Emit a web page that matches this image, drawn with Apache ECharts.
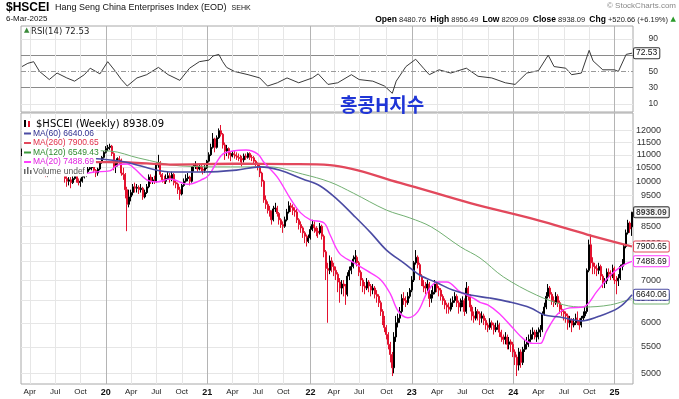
<!DOCTYPE html>
<html>
<head>
<meta charset="utf-8">
<script src="https://cdn.jsdelivr.net/npm/echarts@6/dist/echarts.min.js"></script>
<style>
  html, body { margin: 0; padding: 0; background: #fff; }
  #chart { width: 679px; height: 399px; }
</style>
</head>
<body>
<div id="chart"></div>
<script>
// weekly bars, first bar = week ending Fri 8-Mar-2019
const firstFriday = [2019, 2, 8];
const firstOpen = 11000;

const closes = [
  11100, 11400, 11450, 11650, 11750, 11550, 11700, 11300, 11350, 10800,
  10450, 10350, 10250, 10350, 10450, 10850, 10750, 10850, 10800, 10700,
  10800, 10350, 10100, 10000, 10050, 9950, 10100, 10200, 10050, 9950,
  10000, 10150, 10200, 10350, 10450, 10500, 10550, 10400, 10300, 10450,
  10700, 10900, 11100, 11250, 11300, 11350, 11050, 10550, 10650, 10850,
  10800, 10300, 10250, 9700, 9200, 9450, 9600, 9800, 9750, 9780,
  9700, 9750, 9450, 9600, 9800, 10150, 10000, 10050, 10000, 10600,
  10700, 10250, 10050, 10000, 10100, 10200, 10100, 10250, 9950, 9900,
  9700, 9550, 9850, 10000, 10100, 10150, 10000, 10450, 10550, 10600,
  10450, 10550, 10450, 10400, 10500, 10750, 11000, 11300, 11650, 11300,
  11700, 12000, 11850, 11400, 11150, 11250, 11000, 10950, 11050, 11000,
  10950, 10900, 10850, 10800, 10950, 10900, 11050, 10900, 10880, 10750,
  10650, 10550, 10300, 10000, 9350, 9200, 9000, 8950, 8700, 9050,
  9080, 8900, 8700, 8550, 8500, 8700, 8950, 9150, 9100, 9000,
  8950, 8700, 8550, 8450, 8300, 8200, 8050, 8150, 8400, 8550,
  8450, 8350, 8300, 8500, 8200, 7750, 7300, 7250, 7500, 7350,
  7250, 7150, 6950, 6800, 6900, 6850, 6650, 7100, 7250, 7350,
  7550, 7600, 7450, 7200, 7000, 6850, 6800, 6950, 6850, 6750,
  6800, 6650, 6600, 6450, 6250, 6050, 5900, 5750, 5550, 5350,
  5100, 5700, 6000, 6100, 6250, 6550, 6500, 6450, 6600, 6750,
  7000, 7450, 7600, 7400, 7100, 6950, 6850, 6800, 6900, 6550,
  6650, 6700, 6900, 6800, 6750, 6600, 6500, 6400, 6350, 6300,
  6450, 6500, 6600, 6450, 6350, 6450, 6500, 6250, 6800, 6600,
  6350, 6150, 6100, 6250, 6200, 6100, 6150, 6050, 5950, 5900,
  6000, 5950, 5850, 5900, 5950, 5800, 5700, 5650, 5700, 5550,
  5600, 5550, 5400, 5300, 5150, 5400, 5200, 5450, 5550, 5600,
  5650, 5750, 5800, 5700, 5750, 5800, 5850, 6200, 6350, 6600,
  6800, 6650, 6500, 6450, 6600, 6450, 6300, 6250, 6200, 6150,
  6000, 6050, 5950, 6000, 6100, 6050, 5950, 6100, 6150, 6250,
  7250, 7950, 7450, 7350, 7300, 7250, 7350, 7100, 6950, 6980,
  7200, 7150, 7100, 7300, 7000, 6980, 7050, 7350, 7400, 7900,
  8300, 8600, 8417.43, 8938.09
];

const highs = [
  11250, 11450, 11550, 11700, 11850, 11800, 11880, 11750, 11500, 11400,
  10900, 10600, 10450, 10450, 10550, 10950, 10950, 10950, 10900, 10850,
  10900, 10850, 10400, 10200, 10150, 10150, 10200, 10300, 10250, 10100,
  10100, 10250, 10350, 10450, 10550, 10700, 10650, 10600, 10450, 10500,
  10750, 10950, 11150, 11350, 11400, 11450, 11400, 11100, 10750, 10900,
  10950, 10850, 10500, 10300, 9800, 9700, 9700, 9900, 9950, 9900,
  9850, 9900, 9800, 9700, 9900, 10250, 10250, 10150, 10200, 10700,
  11000, 10750, 10300, 10200, 10250, 10350, 10300, 10350, 10300, 10050,
  9950, 9800, 9900, 10100, 10250, 10300, 10200, 10550, 10650, 10750,
  10650, 10650, 10600, 10550, 10600, 10800, 11100, 11450, 11900, 11700,
  11800, 12100, 12250, 11900, 11500, 11400, 11300, 11100, 11150, 11150,
  11100, 11050, 11000, 10950, 11050, 11050, 11100, 11100, 11000, 10950,
  10800, 10700, 10600, 10350, 10050, 9500, 9300, 9150, 9000, 9150,
  9250, 9150, 8950, 8750, 8650, 8800, 9050, 9300, 9250, 9200,
  9100, 9050, 8750, 8650, 8500, 8350, 8250, 8250, 8500, 8700,
  8650, 8500, 8450, 8600, 8550, 8250, 7800, 7450, 7650, 7600,
  7450, 7350, 7200, 7050, 7000, 7000, 6900, 7200, 7350, 7500,
  7650, 7800, 7650, 7500, 7250, 7050, 6950, 7050, 7000, 6900,
  6900, 6850, 6750, 6650, 6500, 6300, 6150, 5950, 5800, 5600,
  5400, 5800, 6150, 6200, 6350, 6650, 6700, 6600, 6700, 6800,
  7100, 7500, 7800, 7650, 7450, 7150, 7000, 6950, 7000, 6950,
  6750, 6850, 7000, 6950, 6850, 6800, 6650, 6550, 6450, 6450,
  6550, 6600, 6700, 6650, 6500, 6550, 6600, 6550, 6950, 6850,
  6650, 6400, 6250, 6350, 6300, 6250, 6250, 6200, 6100, 6000,
  6100, 6050, 6000, 6000, 6050, 6000, 5850, 5750, 5800, 5750,
  5700, 5650, 5600, 5450, 5350, 5480, 5450, 5500, 5650, 5700,
  5750, 5850, 5900, 5850, 5850, 5900, 5950, 6250, 6450, 6700,
  6900, 6850, 6700, 6600, 6700, 6650, 6500, 6400, 6300, 6250,
  6200, 6150, 6100, 6100, 6200, 6250, 6100, 6150, 6250, 6350,
  7300, 8100, 8250, 7600, 7450, 7400, 7450, 7400, 7150, 7050,
  7300, 7300, 7250, 7400, 7350, 7100, 7150, 7400, 7550, 7950,
  8400, 8700, 8650, 8956.49
];

const lows = [
  10950, 11050, 11300, 11400, 11600, 11500, 11500, 11250, 11100, 10700,
  10400, 10250, 10150, 10150, 10250, 10400, 10650, 10700, 10650, 10600,
  10600, 10300, 9950, 9800, 9850, 9750, 9900, 10050, 9950, 9850,
  9800, 9950, 10100, 10150, 10300, 10400, 10400, 10300, 10150, 10200,
  10400, 10650, 10850, 11050, 11150, 11200, 10950, 10400, 10300, 10550,
  10650, 10200, 10050, 9400, 8350, 9100, 9300, 9500, 9600, 9600,
  9550, 9600, 9350, 9400, 9550, 9750, 9900, 9900, 9900, 9950,
  10500, 10150, 9950, 9900, 9900, 10050, 9950, 10000, 9850, 9750,
  9550, 9350, 9500, 9800, 9950, 10000, 9850, 9950, 10350, 10450,
  10350, 10400, 10350, 10250, 10300, 10450, 10700, 10950, 11250, 11100,
  11250, 11650, 11750, 11250, 10800, 10950, 10850, 10750, 10900, 10850,
  10800, 10750, 10700, 10550, 10700, 10800, 10850, 10800, 10750, 10650,
  10550, 10400, 10150, 9800, 9250, 9050, 8900, 8800, 8550, 8650,
  8950, 8800, 8550, 8450, 8300, 8450, 8650, 8900, 8950, 8850,
  8800, 8600, 8400, 8300, 8150, 8000, 7900, 8000, 8100, 8350,
  8300, 8200, 8150, 8250, 8100, 7600, 7000, 6000, 7150, 7200,
  7100, 7000, 6700, 6450, 6650, 6600, 6400, 6600, 7000, 7150,
  7300, 7450, 7350, 7100, 6850, 6700, 6650, 6750, 6700, 6600,
  6650, 6550, 6450, 6350, 6150, 5950, 5800, 5650, 5450, 5200,
  4950, 5000, 5600, 5900, 6000, 6200, 6400, 6350, 6400, 6550,
  6700, 6950, 7400, 7300, 7000, 6850, 6700, 6650, 6700, 6350,
  6450, 6550, 6650, 6700, 6600, 6500, 6400, 6300, 6200, 6200,
  6250, 6350, 6450, 6350, 6200, 6250, 6350, 6150, 6200, 6500,
  6250, 6050, 6000, 6050, 6050, 5950, 6000, 5950, 5850, 5800,
  5850, 5850, 5750, 5800, 5850, 5700, 5600, 5550, 5550, 5450,
  5450, 5400, 5300, 5150, 4950, 5050, 5100, 5150, 5400, 5450,
  5500, 5600, 5650, 5650, 5600, 5650, 5700, 5800, 6150, 6300,
  6550, 6550, 6400, 6350, 6400, 6350, 6200, 6150, 6050, 6000,
  5850, 5900, 5800, 5900, 5950, 5950, 5850, 5900, 6050, 6100,
  6200, 7200, 7300, 7150, 7150, 7100, 7150, 7000, 6800, 6800,
  6900, 7050, 7000, 7050, 6900, 6650, 6850, 7000, 7250, 7350,
  7850, 8250, 8300, 8209.09
];

// header quote for the last week
const lastBar = { open: 8480.76, high: 8956.49, low: 8209.09, close: 8938.09, chg: 520.66, chgPct: 6.19 };

// moving averages as [week index, value]
const ma20Pts = [
  [0, 11100], [15, 10700], [30, 10250], [37, 10340], [45, 10380], [49, 10600], [54, 10640],
  [58, 10450], [64, 10050], [69, 9970], [76, 10080], [85, 9890], [93, 10080], [96, 10230],
  [100, 10720], [103, 11030], [108, 11150], [115, 11190], [121, 11030], [124, 10720],
  [131, 10150], [138, 9360], [143, 8920], [148, 8700], [155, 8600], [158, 8250], [163, 7700],
  [170, 7460], [177, 7240], [184, 7010], [189, 6660], [193, 6260], [198, 6110], [203, 6240],
  [208, 6700], [213, 6950], [218, 6950], [225, 6700], [230, 6600], [235, 6460], [239, 6400],
  [245, 6200], [252, 5880], [257, 5670], [262, 5570], [266, 5570], [269, 5810], [275, 6200],
  [281, 6330], [288, 6350], [295, 6720], [302, 7130], [309, 7400], [313, 7488.69]
];
const ma60Pts = [
  [0, 11000], [50, 10760], [76, 10340], [93, 10340], [110, 10410], [122, 10530], [132, 10410],
  [144, 10080], [153, 9830], [162, 9350], [170, 8850], [179, 8300], [187, 7800], [196, 7440],
  [204, 7130], [213, 6930], [221, 6750], [230, 6630], [240, 6560], [250, 6470], [261, 6330],
  [268, 6170], [276, 6125], [287, 6040], [295, 6125], [306, 6330], [313, 6640.06]
];
const ma120Pts = [
  [0, 11200], [45, 11150], [60, 10870], [81, 10570], [107, 10530], [127, 10530], [144, 10260],
  [158, 9970], [170, 9580], [187, 9010], [199, 8760], [210, 8480], [225, 7890], [235, 7580],
  [247, 7080], [264, 6630], [278, 6400], [288, 6350], [302, 6400], [313, 6549.43]
];
const ma260Pts = [
  [0, 10800], [35, 10720], [55, 10700], [76, 10620], [110, 10650], [137, 10640], [158, 10600],
  [194, 9940], [230, 9240], [264, 8700], [290, 8250], [313, 7900.65]
];
const rsiPts = [
  [0, 56], [3, 60], [6, 62], [9, 50], [14, 40], [18, 48], [23, 42], [27, 38], [32, 46], [35, 54],
  [40, 47], [44, 62], [48, 50], [51, 40], [54, 32], [59, 42], [64, 46], [70, 55], [75, 46],
  [81, 39], [86, 54], [91, 62], [96, 64], [98, 69], [101, 71], [103, 62], [105, 55], [109, 50],
  [116, 46], [122, 42], [126, 32], [131, 36], [136, 42], [142, 36], [149, 42], [152, 47],
  [157, 34], [162, 36], [169, 46], [173, 40], [180, 38], [186, 32], [190, 23], [192, 38],
  [197, 56], [202, 65], [206, 54], [209, 46], [214, 52], [220, 48], [228, 54], [234, 44],
  [241, 42], [248, 36], [253, 34], [259, 48], [265, 51], [270, 70], [273, 56], [279, 54],
  [282, 46], [287, 48], [291, 76], [293, 63], [298, 52], [304, 52], [306, 50], [310, 71],
  [313, 72.53]
];

const priceTicks = [5000, 5500, 6000, 6500, 7000, 7500, 8000, 8500, 9000, 9500, 10000, 10500, 11000, 11500, 12000];
const rsiTicks = [10, 30, 50, 70, 90];
const MONTHS = ['Jan', 'Feb', 'Mar', 'Apr', 'May', 'Jun', 'Jul', 'Aug', 'Sep', 'Oct', 'Nov', 'Dec'];

const FONT = 'Liberation Sans, Arial, sans-serif';
const UP = '#000000';
const DOWN = '#e3122f';
const C_MA60 = '#4b4ba3';
const C_MA260 = '#e2485c';
const C_MA120 = '#72b072';
const C_MA20 = '#ff3cff';

// category axis: friday of every week
const dates = closes.map((_, i) => new Date(firstFriday[0], firstFriday[1], firstFriday[2] + 7 * i));
const cats = dates.map(d => d.getFullYear() + '-' + (d.getMonth() + 1) + '-' + d.getDate());
const quarterIdx = [];
dates.forEach((d, i) => {
  if (i > 0 && d.getMonth() !== dates[i - 1].getMonth() && d.getMonth() % 3 === 0) quarterIdx.push(i);
});
const quarterSet = new Set(quarterIdx);
const vLineColors = quarterIdx.map(i => (dates[i].getMonth() === 0 ? '#b4b4b4' : '#e6e6e6'));

// candle rows [open, close, low, high]; a week opens at the prior close
const candles = closes.map((c, i) => {
  let o = i === 0 ? firstOpen : closes[i - 1];
  if (i === closes.length - 1) o = lastBar.open;
  const h = Math.max(highs[i], o, c);
  const l = Math.min(lows[i], o, c);
  return [o, c, l, h];
});

function xAxisCfg(gridIndex, showLabels) {
  return {
    type: 'category',
    gridIndex: gridIndex,
    data: cats,
    boundaryGap: true,
    axisLine: { show: false },
    axisTick: { show: false },
    axisLabel: showLabels ? {
      interval: (i) => quarterSet.has(i),
      margin: 4,
      fontSize: 8,
      color: '#222',
      fontFamily: FONT,
      hideOverlap: false,
      formatter: (v, i) => {
        const d = dates[i];
        return d.getMonth() === 0 ? '{y|' + String(d.getFullYear()).slice(2) + '}' : MONTHS[d.getMonth()];
      },
      rich: { y: { fontWeight: 'bold', fontSize: 9, color: '#111', fontFamily: FONT } }
    } : { show: false },
    splitLine: {
      show: true,
      alignWithLabel: true,
      interval: (i) => quarterSet.has(i),
      lineStyle: { color: vLineColors, width: 1 }
    }
  };
}

function endBox(text, border, bold) {
  return {
    show: true,
    formatter: text,
    distance: 2,
    fontSize: 8.5,
    fontFamily: FONT,
    fontWeight: bold ? 'bold' : 'normal',
    color: '#111',
    backgroundColor: '#fff',
    borderColor: border,
    borderWidth: 1,
    borderRadius: 1,
    padding: [1, 2, 0, 2]
  };
}

function maSeries(name, pts, color, width, label) {
  return {
    name: name,
    type: 'line',
    xAxisIndex: 1,
    yAxisIndex: 1,
    data: pts,
    showSymbol: false,
    smooth: 0.35,
    silent: true,
    lineStyle: { color: color, width: width },
    endLabel: endBox(label, color, false),
    z: 3
  };
}

const legendRows = [
  { text: '$HSCEI (Weekly) ' + lastBar.close.toFixed(2), color: '#000', y: 124, x: 36, font: '10px DejaVu Sans, sans-serif' },
  { text: 'MA(60) 6640.06', color: '#2f2f8f', y: 133.5, x: 33, icon: C_MA60 },
  { text: 'MA(260) 7900.65', color: '#e0304a', y: 143, x: 33, icon: C_MA260 },
  { text: 'MA(120) 6549.43', color: '#2f8a2f', y: 152.5, x: 33, icon: '#3a9a3a' },
  { text: 'MA(20) 7488.69', color: '#e020e0', y: 162, x: 33, icon: C_MA20 },
  { text: 'Volume undef', color: '#555', y: 171.5, x: 33 }
];

const graphics = [
  { type: 'text', left: 6, top: 2, style: { text: '$HSCEI', font: 'bold 12px ' + FONT, fill: '#000' } },
  {
    type: 'text', left: 55, top: 3.5,
    style: {
      text: 'Hang Seng China Enterprises Index (EOD)  {s|SEHK}', font: '9px ' + FONT, fill: '#111',
      rich: { s: { fontSize: 7, fontFamily: FONT, fill: '#111' } }
    }
  },
  { type: 'text', left: 6, top: 15, style: { text: '6-Mar-2025', font: '8px ' + FONT, fill: '#111' } },
  { type: 'text', right: 3, top: 2, style: { text: '\u00a9 StockCharts.com', font: '8px ' + FONT, fill: '#888' } },
  {
    type: 'text', right: 11, top: 15,
    style: {
      text: '{b|Open} ' + lastBar.open.toFixed(2) + '  {b|High} ' + lastBar.high.toFixed(2) +
        '  {b|Low} ' + lastBar.low.toFixed(2) + '  {b|Close} ' + lastBar.close.toFixed(2) +
        '  {b|Chg} +' + lastBar.chg.toFixed(2) + ' (+' + lastBar.chgPct.toFixed(2) + '%)',
      font: '7.5px ' + FONT,
      fill: '#222',
      rich: { b: { fontWeight: 'bold', fontSize: 8.5, fontFamily: FONT, fill: '#000' } }
    }
  },
  { type: 'text', right: 3, top: 16, style: { text: '\u25b2', font: '7px DejaVu Sans, sans-serif', fill: '#2a9a2a' } },
  { type: 'text', left: 31, top: 27, style: { text: 'RSI(14) 72.53', font: '8.5px DejaVu Sans, sans-serif', fill: '#222' }, z: 50 },
  { type: 'text', left: 24, top: 27, style: { text: '\u25b2', font: '7px DejaVu Sans, sans-serif', fill: '#3a8a3a' }, z: 50 },
  {
    type: 'text', left: 340, top: 95, z: 60,
    style: { text: '홍콩H지수', fontFamily: 'Noto Sans CJK KR', fontWeight: 'bold', fontSize: 19, fill: '#1f35d6' }
  },
  { type: 'rect', left: 22, top: 118, shape: { width: 11, height: 58 }, style: { fill: '#fff' }, z: 40 },
  { type: 'rect', left: 24, top: 120, shape: { width: 2, height: 7 }, style: { fill: '#000' }, z: 42 },
  { type: 'rect', left: 28, top: 121, shape: { width: 2, height: 6 }, style: { fill: DOWN }, z: 42 },
  { type: 'rect', left: 24, top: 169, shape: { width: 1.5, height: 5 }, style: { fill: '#666' }, z: 42 },
  { type: 'rect', left: 27, top: 167, shape: { width: 1.5, height: 7 }, style: { fill: '#666' }, z: 42 },
  { type: 'rect', left: 30, top: 170, shape: { width: 1.5, height: 4 }, style: { fill: '#666' }, z: 42 }
];
legendRows.forEach(r => {
  graphics.push({
    type: 'text', left: r.x, top: r.y - 5, z: 41,
    style: {
      text: r.text, font: r.font || ('8.5px ' + FONT), fill: r.color,
      backgroundColor: '#fff', padding: [0, 2, 0, 0], lineHeight: 10
    }
  });
  if (r.icon) {
    graphics.push({
      type: 'line', z: 42,
      shape: { x1: 24, y1: r.y, x2: 31, y2: r.y },
      style: { stroke: r.icon, lineWidth: 2 }
    });
  }
});

const chart = echarts.init(document.getElementById('chart'), null, { renderer: 'canvas' });

chart.setOption({
  animation: false,
  backgroundColor: '#fff',
  grid: [
    { left: 21, top: 26, width: 612, height: 86, show: true, borderColor: '#a8a8a8', borderWidth: 1, backgroundColor: 'transparent', outerBoundsMode: 'none' },
    { left: 21, top: 113, width: 612, height: 271, show: true, borderColor: '#a8a8a8', borderWidth: 1, backgroundColor: 'transparent', outerBoundsMode: 'none' }
  ],
  xAxis: [xAxisCfg(0, false), xAxisCfg(1, true)],
  yAxis: [
    {
      type: 'value', gridIndex: 0, position: 'right', min: 0, max: 106,
      axisLine: { show: false },
      axisTick: { show: false, customValues: rsiTicks },
      axisLabel: {
        customValues: rsiTicks, align: 'right', margin: 25, fontSize: 8.5, color: '#333',
        fontFamily: FONT, hideOverlap: false
      },
      splitLine: {
        show: true,
        lineStyle: { color: ['#e6e6e6', '#8a8a8a', 'rgba(0,0,0,0)', '#8a8a8a', '#e6e6e6'], width: 1.2 }
      }
    },
    {
      type: 'log', logBase: 10, gridIndex: 1, position: 'right', min: 4810, max: 12792,
      axisLine: { show: false },
      axisTick: { show: false, customValues: priceTicks },
      axisLabel: {
        customValues: priceTicks, align: 'right', margin: 28, fontSize: 9, color: '#333',
        fontFamily: FONT, hideOverlap: false, formatter: (v) => String(Math.round(v))
      },
      splitLine: { show: true, lineStyle: { color: '#e6e6e6', width: 1 } }
    }
  ],
  series: [
    {
      name: 'RSI',
      type: 'line',
      xAxisIndex: 0,
      yAxisIndex: 0,
      data: rsiPts,
      showSymbol: false,
      silent: true,
      lineStyle: { color: '#3a3a3a', width: 1 },
      endLabel: endBox('72.53', '#333', false),
      markLine: {
        silent: true,
        symbol: 'none',
        label: { show: false },
        lineStyle: { color: '#9a9a9a', type: [5, 2, 1, 2], width: 1 },
        data: [{ yAxis: 50 }]
      }
    },
    maSeries('MA(120)', ma120Pts, C_MA120, 1, '6549.43'),
    maSeries('MA(260)', ma260Pts, C_MA260, 2.3, '7900.65'),
    {
      name: '$HSCEI',
      type: 'candlestick',
      xAxisIndex: 1,
      yAxisIndex: 1,
      data: candles,
      barWidth: 1.5,
      silent: true,
      itemStyle: {
        color: UP, color0: DOWN,
        borderColor: UP, borderColor0: DOWN, borderColorDoji: UP,
        borderWidth: 1
      },
      z: 2
    },
    maSeries('MA(20)', ma20Pts, C_MA20, 1.4, '7488.69'),
    maSeries('MA(60)', ma60Pts, C_MA60, 1.6, '6640.06'),
    {
      name: 'close',
      type: 'scatter',
      xAxisIndex: 1,
      yAxisIndex: 1,
      data: [[closes.length - 1, lastBar.close]],
      symbolSize: 0,
      silent: true,
      label: Object.assign(endBox(lastBar.close.toFixed(2), '#000', true), { position: 'right' }),
      z: 6
    }
  ],
  graphic: graphics
});
</script>
</body>
</html>
